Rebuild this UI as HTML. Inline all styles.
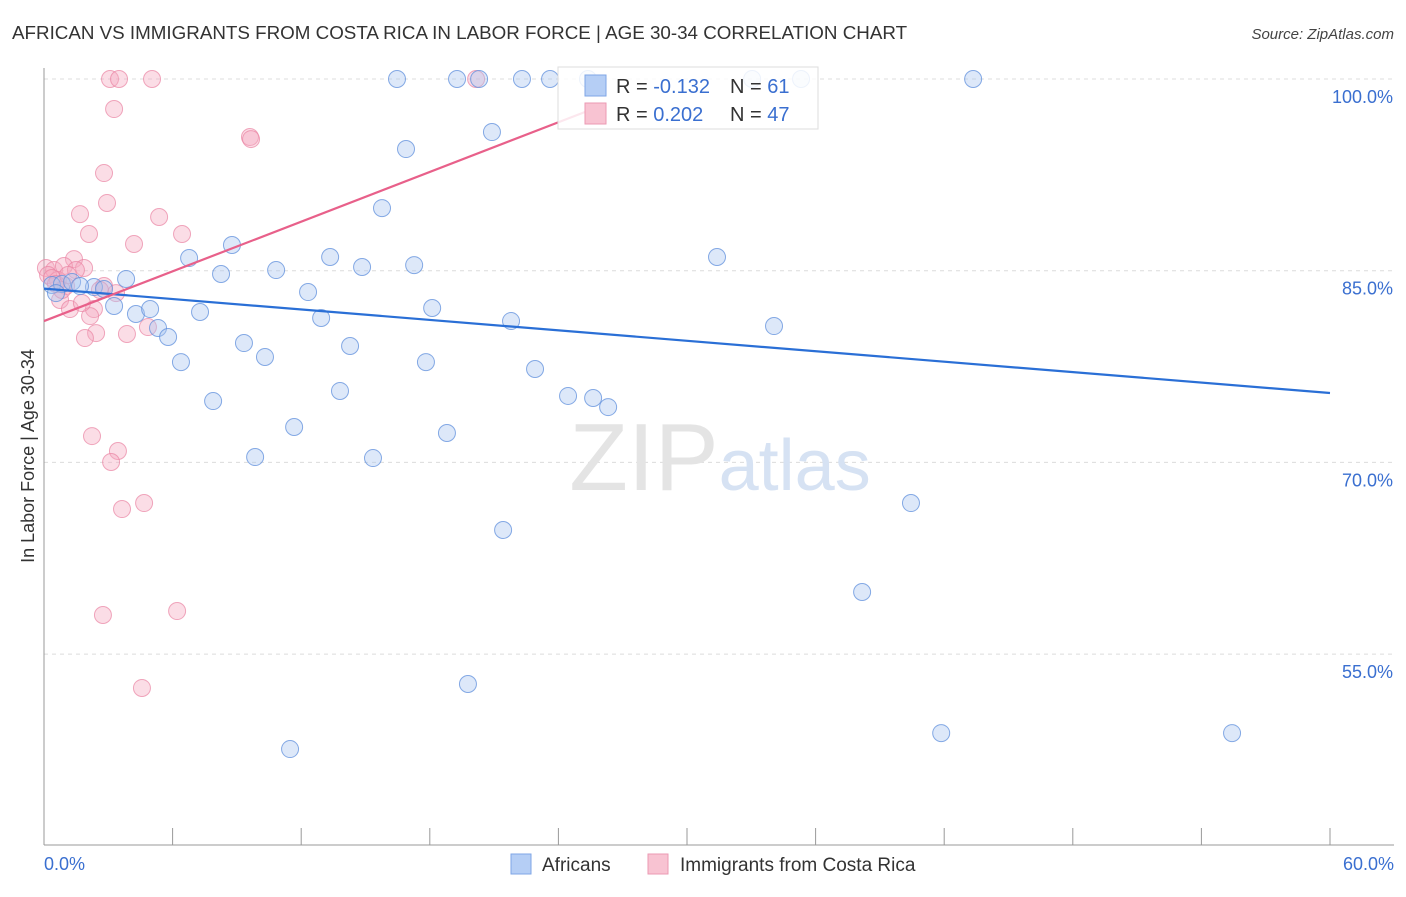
<!DOCTYPE html>
<html><head><meta charset="utf-8"><style>
body{margin:0;background:#fff;font-family:"Liberation Sans",sans-serif}
svg text{font-family:"Liberation Sans",sans-serif}
</style></head><body>
<svg width="1406" height="892" viewBox="0 0 1406 892" xmlns="http://www.w3.org/2000/svg">
<text x="12" y="39" font-size="18.8" fill="#333">AFRICAN VS IMMIGRANTS FROM COSTA RICA IN LABOR FORCE | AGE 30-34 CORRELATION CHART</text>
<text x="1394" y="39" font-size="15" fill="#444" text-anchor="end" font-style="italic">Source: ZipAtlas.com</text>
<g id="grid"></g>
<text x="720" y="490" font-size="96" text-anchor="middle" fill="#e4e4e4" font-family="Liberation Serif"><tspan>ZIP</tspan><tspan fill="#d6e2f3" font-family="Liberation Sans" font-size="72">atlas</tspan></text>
<g id="pts"></g>
<g id="lines"></g>
<text transform="translate(34,456) rotate(-90)" font-size="18" fill="#333" text-anchor="middle">In Labor Force | Age 30-34</text>
<g>
<rect x="558" y="67" width="260" height="62" fill="#fff" fill-opacity="0.85" stroke="#ddd"/>
<rect x="585" y="75" width="21" height="21" fill="#b5cef5" stroke="#7fa6e6"/>
<rect x="585" y="103" width="21" height="21" fill="#f8c3d2" stroke="#eb9ab3"/>
<text x="616" y="93" font-size="20" fill="#333">R = <tspan fill="#3a6fd0">-0.132</tspan></text>
<text x="730" y="93" font-size="20" fill="#333">N = <tspan fill="#3a6fd0"> 61</tspan></text>
<text x="616" y="121" font-size="20" fill="#333">R = <tspan fill="#3a6fd0"> 0.202</tspan></text>
<text x="730" y="121" font-size="20" fill="#333">N = <tspan fill="#3a6fd0">47</tspan></text>
</g>
<g>
<rect x="511" y="854" width="20" height="20" fill="#b5cef5" stroke="#7fa6e6"/>
<text x="542" y="871" font-size="19" fill="#333">Africans</text>
<rect x="648" y="854" width="20" height="20" fill="#f8c3d2" stroke="#eb9ab3"/>
<text x="680" y="871" font-size="19" fill="#333">Immigrants from Costa Rica</text>
</g>
<text x="44" y="870" font-size="18" fill="#3a6fd0">0.0%</text>
<text x="1394" y="870" font-size="18" fill="#3a6fd0" text-anchor="end">60.0%</text>
</svg>
<script>
const yTicks=[100,85,70,55];
const yTickLabels=["100.0%","85.0%","70.0%","55.0%"];
const xTicks=[0,6,12,18,24,30,36,42,48,54,60];
const blueX=[16.47,19.27,20.30,22.30,23.61,25.38,33.04,35.32,43.35,20.90,16.89,15.77,8.77,6.77,13.35,31.40,10.83,14.84,17.27,8.26,3.83,12.32,0.37,0.84,1.31,2.33,2.80,3.27,4.29,4.95,7.28,12.93,18.11,21.79,34.06,5.32,5.79,9.33,14.28,6.39,10.31,17.82,22.91,13.81,24.45,25.62,26.32,7.89,11.67,18.80,9.85,15.35,40.45,21.42,38.17,19.78,41.86,55.43,11.48,0.56,1.68];
const blueY=[100,100,100,100,100,100,100,100,100,95.85,94.52,89.90,87.01,85.99,86.07,86.07,85.05,85.29,85.44,84.74,84.35,83.33,83.88,83.96,84.12,83.72,83.57,82.24,81.61,82.00,81.77,81.30,82.08,81.06,80.67,80.52,79.81,79.34,79.11,77.85,78.25,77.85,77.31,75.59,75.20,75.04,74.33,74.80,72.77,72.30,70.42,70.34,66.82,64.71,59.86,52.66,48.82,48.82,47.57,83.25,83.80];
const pinkX=[3.08,3.50,5.04,20.16,3.27,9.61,9.66,2.80,2.94,1.68,5.37,2.10,6.44,4.20,0.09,0.47,1.40,0.93,1.87,0.19,0.65,1.03,1.49,2.80,3.36,0.75,1.21,2.33,2.15,1.77,4.85,3.87,2.43,1.91,2.24,3.45,3.13,3.64,4.67,6.21,2.75,4.57,0.37,0.84,0.56,2.61,1.12];
const pinkY=[100,100,100,100,97.65,95.46,95.30,92.64,90.30,89.43,89.20,87.87,87.87,87.09,85.21,85.05,85.91,85.37,85.21,84.66,84.27,83.80,85.05,83.80,83.25,82.71,82.00,82.00,81.45,82.47,80.59,80.05,80.12,79.73,72.06,70.89,70.03,66.35,66.82,58.37,58.06,52.35,84.43,83.49,83.96,83.49,84.66];
const blueTrend=[[0,83.6],[60,75.43]];
const pinkTrend=[[0,81.06],[25.24,97.42]];
const NS="http://www.w3.org/2000/svg";
const sx=v=>44+v/60*1286;
const sy=v=>79+(100-v)/15*191.7;
function mk(t,a,p){const e=document.createElementNS(NS,t);for(const k in a)e.setAttribute(k,a[k]);p.appendChild(e);return e;}
const grid=document.getElementById('grid');
yTicks.forEach((t,i)=>{
 const l=mk('line',{x1:44,x2:1394,y1:sy(t),y2:sy(t),stroke:'#dcdcdc','stroke-dasharray':'4,4'},grid);
 
 
 const tx=mk('text',{x:1393,y:sy(t)+24,'font-size':18,fill:'#3a6fd0','text-anchor':'end'},grid);
 tx.textContent=yTickLabels[i];
 
 
});
const ax=mk('line',{x1:44,x2:44,y1:68,y2:845,stroke:'#999'},grid);


const bx=mk('line',{x1:44,x2:1394,y1:845,y2:845,stroke:'#999'},grid);


xTicks.forEach(t=>{
 const l=mk('line',{x1:sx(t),x2:sx(t),y1:828,y2:845,stroke:'#999'},grid);
 
 
});
const pts=document.getElementById('pts');
pinkX.forEach((x,i)=>{
 const c=mk('circle',{cx:sx(x),cy:sy(pinkY[i]),r:8.5,fill:'#f5aac0','fill-opacity':0.4,stroke:'#e983a3','stroke-opacity':0.7,'stroke-width':1},pts);
 
 
});
blueX.forEach((x,i)=>{
 const c=mk('circle',{cx:sx(x),cy:sy(blueY[i]),r:8.5,fill:'#a9c6f0','fill-opacity':0.4,stroke:'#5f8fdc','stroke-opacity':0.75,'stroke-width':1},pts);
 
 
});
const lines=document.getElementById('lines');
const bl=mk('line',{x1:sx(blueTrend[0][0]),y1:sy(blueTrend[0][1]),x2:sx(blueTrend[1][0]),y2:sy(blueTrend[1][1]),stroke:'#2a6fd6','stroke-width':2.2},lines);


const pl=mk('line',{x1:sx(pinkTrend[0][0]),y1:sy(pinkTrend[0][1]),x2:sx(pinkTrend[1][0]),y2:sy(pinkTrend[1][1]),stroke:'#e8608a','stroke-width':2.2},lines);


</script>
</body></html>
